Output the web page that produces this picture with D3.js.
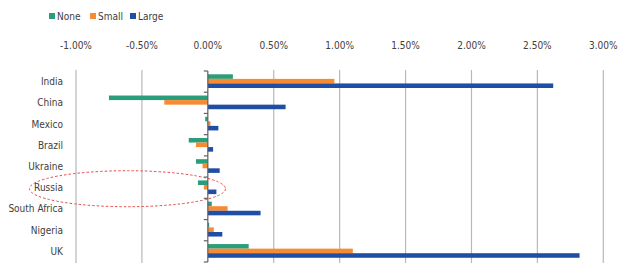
<!DOCTYPE html>
<html>
<head>
<meta charset="utf-8">
<script src="https://cdn.jsdelivr.net/npm/d3@7"></script>
<style>
  body { margin: 0; background: #fff; }
  text { font-family: "Liberation Sans Narrow", "DejaVu Sans Condensed", "Liberation Sans", sans-serif; fill: #404040; }
</style>
</head>
<body>
<div id="chartDiv"></div>
<script>
var categories = ["India", "China", "Mexico", "Brazil", "Ukraine", "Russia", "South Africa", "Nigeria", "UK"];
var seriesNames = ["None", "Small", "Large"];
var noneVals  = [0.19, -0.75, -0.02, -0.145, -0.09, -0.075, 0.03, 0.01, 0.31];
var smallVals = [0.96, -0.33, 0.02, -0.09, -0.04, -0.03, 0.15, 0.045, 1.10];
var largeVals = [2.62, 0.59, 0.08, 0.04, 0.09, 0.065, 0.40, 0.11, 2.82];
var xTicks = [-1, -0.5, 0, 0.5, 1, 1.5, 2, 2.5, 3];
var colors = ["#2a9d7a", "#f68b33", "#1f4ea6"];

var width = 625, height = 278;
var svg = d3.select("#chartDiv").append("svg")
    .attr("width", width)
    .attr("height", height);

var xScale = d3.scaleLinear().domain([-1, 3]).range([76, 603.3]);
var yScale = d3.scaleBand().domain(categories).range([71, 262]).paddingInner(0).paddingOuter(0);
var ySub = d3.scaleBand().domain(seriesNames).range([3.3, 17]).padding(0);

// gridlines
svg.append("g").selectAll("line")
  .data(xTicks.filter(d => d !== 0))
  .enter().append("line")
    .attr("x1", d => xScale(d)).attr("x2", d => xScale(d))
    .attr("y1", 70).attr("y2", 263)
    .attr("stroke", "#b8b8bc").attr("stroke-width", 1.2);

// top axis labels (plain hyphen for negatives, like the original)
svg.append("g").selectAll("text")
  .data(xTicks)
  .enter().append("text")
    .attr("x", d => xScale(d))
    .attr("y", 49)
    .attr("text-anchor", "middle")
    .style("font-size", "10px")
    .text(d => (d < 0 ? "-" : "") + Math.abs(d).toFixed(2) + "%");

// bars
var rows = categories.map((c, i) => ({cat: c, vals: [noneVals[i], smallVals[i], largeVals[i]]}));
var groups = svg.append("g").selectAll("g")
  .data(rows)
  .enter().append("g")
    .attr("transform", d => "translate(0," + yScale(d.cat) + ")");

groups.selectAll("rect")
  .data(d => d.vals.map((v, j) => ({name: seriesNames[j], v: v, j: j})))
  .enter().append("rect")
    .attr("x", d => xScale(Math.min(0, d.v)))
    .attr("y", d => ySub(d.name))
    .attr("width", d => Math.abs(xScale(d.v) - xScale(0)))
    .attr("height", ySub.bandwidth())
    .attr("fill", d => colors[d.j]);

// zero axis with left ticks
var yAxis = svg.append("g")
    .attr("transform", "translate(" + xScale(0) + ",0)");
yAxis.append("line")
    .attr("x1", 0).attr("x2", 0)
    .attr("y1", yScale.range()[0]).attr("y2", yScale.range()[1])
    .attr("stroke", "#606066").attr("stroke-width", 1.2);
yAxis.selectAll("line.tk")
  .data(categories.map(c => yScale(c)).concat([yScale.range()[1]]))
  .enter().append("line")
    .attr("class", "tk")
    .attr("x1", -4).attr("x2", 0)
    .attr("y1", d => d).attr("y2", d => d)
    .attr("stroke", "#606066").attr("stroke-width", 1.2);

// category labels
svg.append("g").selectAll("text")
  .data(categories)
  .enter().append("text")
    .attr("x", 63)
    .attr("y", d => yScale(d) + yScale.bandwidth() / 2 + 3.5)
    .attr("text-anchor", "end")
    .style("font-size", "10px")
    .text(d => d);

// legend
var legend = svg.append("g").selectAll("g")
  .data(seriesNames)
  .enter().append("g")
    .attr("transform", (d, i) => "translate(" + [49, 90, 130][i] + ",13)");
legend.append("rect")
    .attr("width", 6).attr("height", 6)
    .attr("fill", (d, i) => colors[i]);
legend.append("text")
    .attr("x", 8).attr("y", 7)
    .style("font-size", "10px")
    .text(d => d);

// red dashed ellipse around Russia
svg.append("ellipse")
    .attr("cx", 127.5)
    .attr("cy", yScale("Russia") + yScale.bandwidth() / 2 + 1)
    .attr("rx", 98)
    .attr("ry", 18)
    .attr("fill", "none")
    .attr("stroke", "#e8474a")
    .attr("stroke-width", 1)
    .attr("stroke-dasharray", "2.5,2");
</script>
</body>
</html>
